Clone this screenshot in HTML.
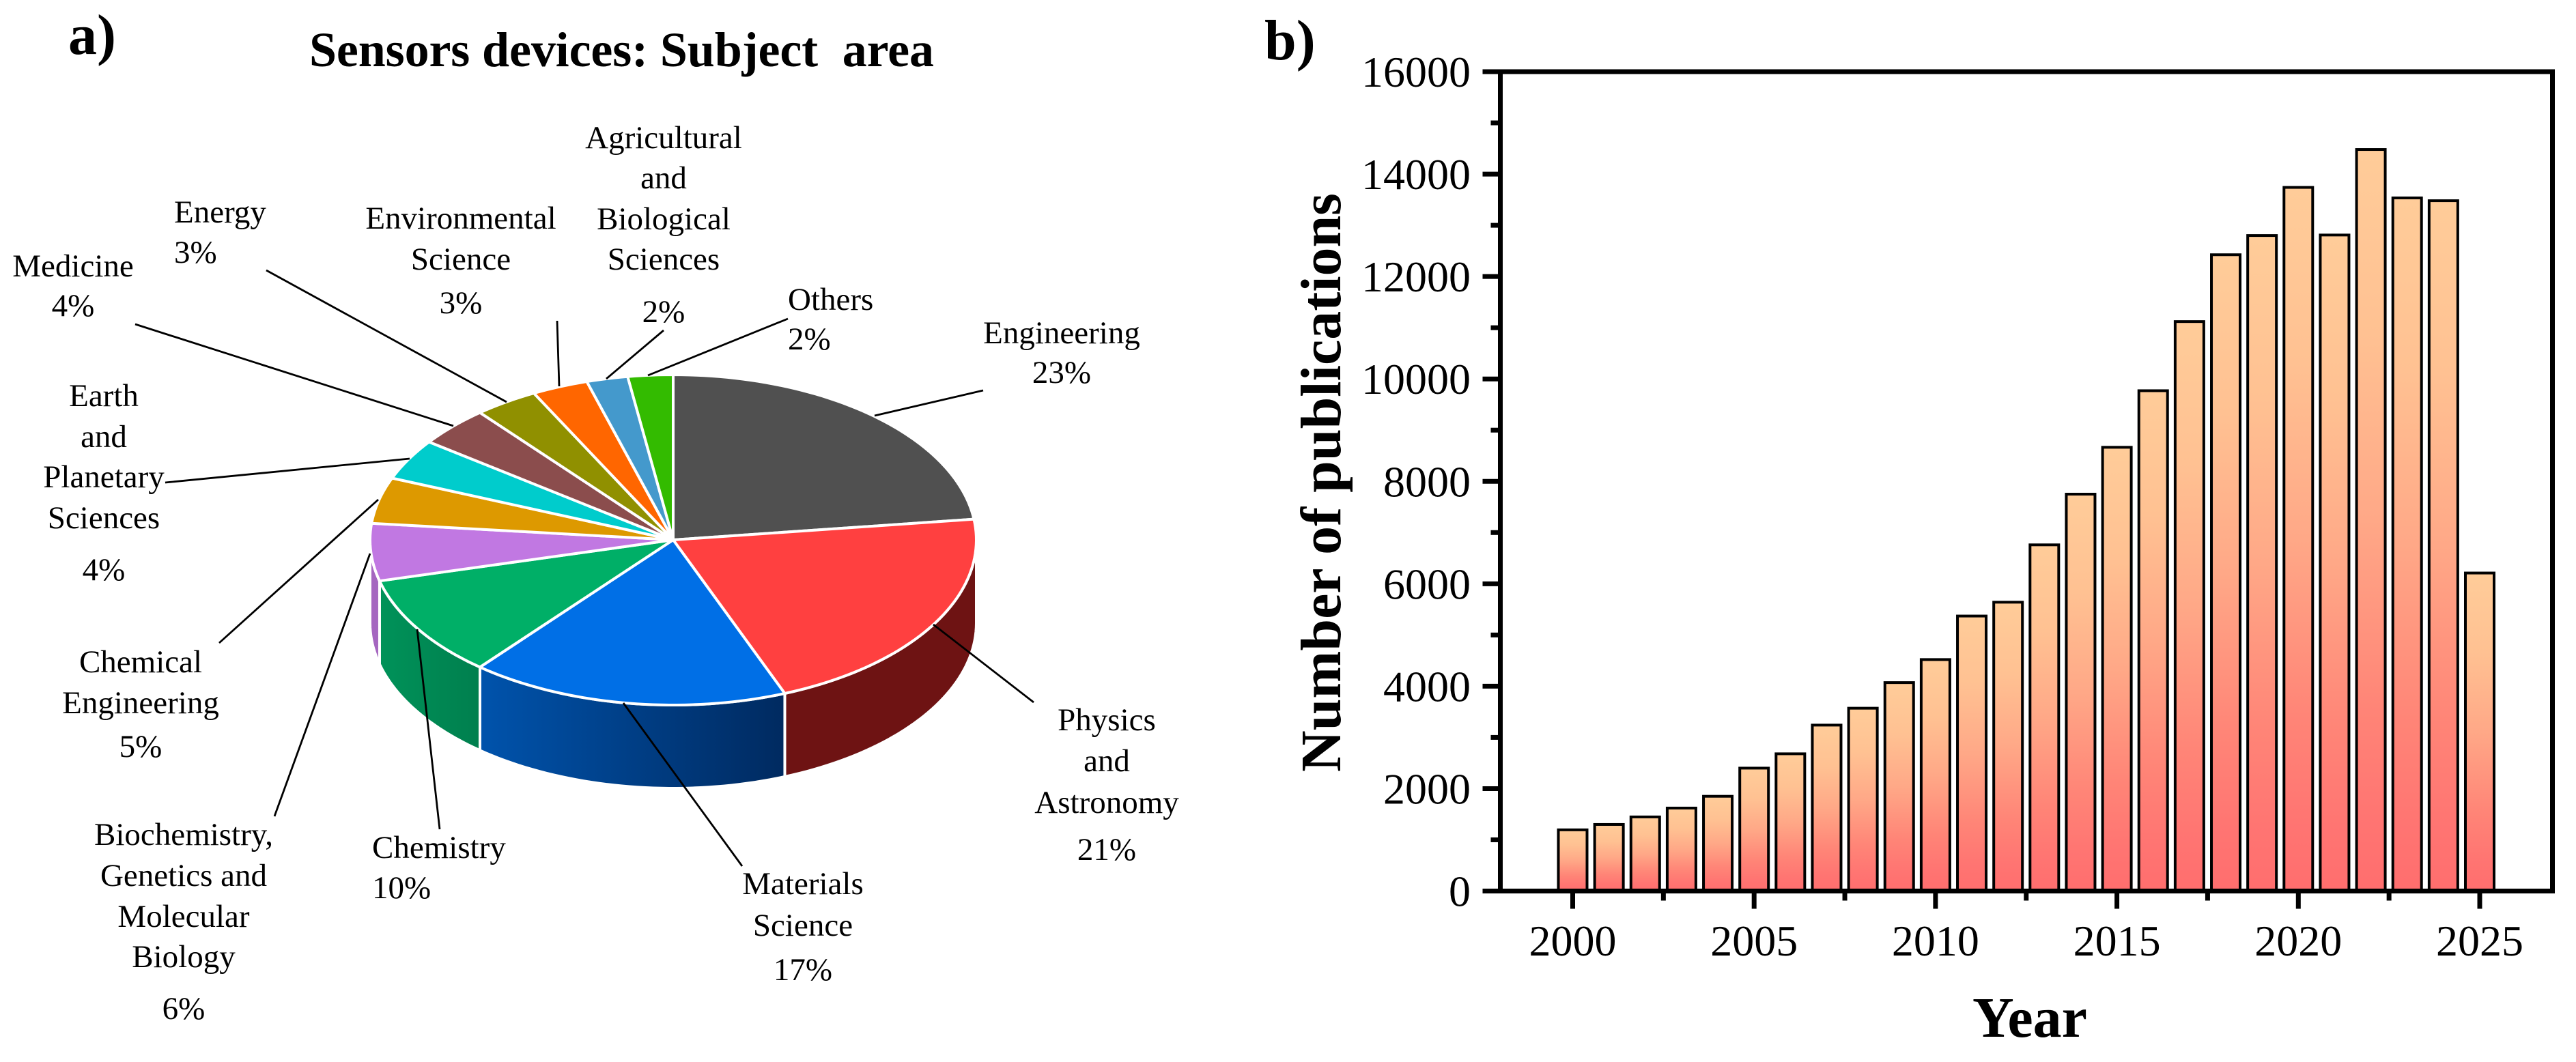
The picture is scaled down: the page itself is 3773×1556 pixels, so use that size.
<!DOCTYPE html>
<html lang="en">
<head>
<meta charset="utf-8">
<title>Sensors devices: subject area and publications per year</title>
<style>
html,body{margin:0;padding:0;background:#fff;}
svg{display:block;}
text{font-family:"Liberation Serif",serif;fill:#000;white-space:pre;}
.lbl{font-size:47px;}
.mid{text-anchor:middle;}
.leader{stroke:#000;stroke-width:2.8;fill:none;}
.tick{font-size:64px;}
</style>
</head>
<body>
<svg id="chart" xmlns="http://www.w3.org/2000/svg" width="3773" height="1556" viewBox="0 0 3773 1556">
  <rect width="3773" height="1556" fill="#fff"/>
  <defs>
    <linearGradient id="barGrad" x1="0" y1="0" x2="0" y2="1">
      <stop offset="0" stop-color="#FFCC99"/>
      <stop offset="0.25" stop-color="#FFC192"/>
      <stop offset="0.5" stop-color="#FFA887"/>
      <stop offset="0.75" stop-color="#FF8577"/>
      <stop offset="0.9" stop-color="#FF7572"/>
      <stop offset="1" stop-color="#FF6E6E"/>
    </linearGradient>
    <linearGradient id="wallBlue" gradientUnits="userSpaceOnUse" x1="703" y1="0" x2="1149" y2="0">
      <stop offset="0" stop-color="#0053AC"/>
      <stop offset="1" stop-color="#002A60"/>
    </linearGradient>
    <linearGradient id="wallGreen" gradientUnits="userSpaceOnUse" x1="557" y1="0" x2="703" y2="0">
      <stop offset="0" stop-color="#009259"/>
      <stop offset="1" stop-color="#007F4E"/>
    </linearGradient>
  </defs>

  <g id="pie-panel">
    <text x="100" y="79" font-size="84" font-weight="bold">a)</text>
    <text x="453" y="97" font-size="72" font-weight="bold" textLength="915">Sensors devices: Subject  area</text>
    <g id="pie-walls"></g>
    <g id="pie-top"></g>

    <g>
      <line class="leader" x1="1440" y1="572" x2="1281" y2="609"/>
      <line class="leader" x1="1154" y1="467" x2="949" y2="550"/>
      <line class="leader" x1="972" y1="484" x2="888" y2="555"/>
      <line class="leader" x1="816" y1="470" x2="819" y2="566"/>
      <line class="leader" x1="390" y1="396" x2="742" y2="589"/>
      <line class="leader" x1="198" y1="475" x2="664" y2="624"/>
      <line class="leader" x1="242" y1="707" x2="600" y2="672"/>
      <line class="leader" x1="554" y1="732" x2="321" y2="942"/>
      <line class="leader" x1="542" y1="811" x2="402" y2="1196"/>
      <line class="leader" x1="611" y1="922" x2="644" y2="1215"/>
      <line class="leader" x1="913" y1="1030" x2="1087" y2="1269"/>
      <line class="leader" x1="1367" y1="915" x2="1514" y2="1029"/>
    </g>

    <g class="lbl mid">
      <text x="972" y="217">Agricultural</text><text x="972" y="276">and</text><text x="972" y="336">Biological</text><text x="972" y="395">Sciences</text><text x="972" y="472">2%</text>
    </g>
    <g class="lbl mid">
      <text x="675" y="335">Environmental</text><text x="675" y="395">Science</text><text x="675" y="459">3%</text>
    </g>
    <g class="lbl">
      <text x="255" y="326">Energy</text><text x="255" y="385">3%</text>
    </g>
    <g class="lbl mid">
      <text x="107" y="405">Medicine</text><text x="107" y="463">4%</text>
    </g>
    <g class="lbl">
      <text x="1154" y="454">Others</text><text x="1154" y="512">2%</text>
    </g>
    <g class="lbl mid">
      <text x="1555" y="503">Engineering</text><text x="1555" y="561">23%</text>
    </g>
    <g class="lbl mid">
      <text x="152" y="595">Earth</text><text x="152" y="655">and</text><text x="152" y="714">Planetary</text><text x="152" y="774">Sciences</text><text x="152" y="850">4%</text>
    </g>
    <g class="lbl mid">
      <text x="206" y="985">Chemical</text><text x="206" y="1045">Engineering</text><text x="206" y="1109">5%</text>
    </g>
    <g class="lbl mid">
      <text x="269" y="1238">Biochemistry,</text><text x="269" y="1298">Genetics and</text><text x="269" y="1358">Molecular</text><text x="269" y="1417">Biology</text><text x="269" y="1493">6%</text>
    </g>
    <g class="lbl">
      <text x="545" y="1257">Chemistry</text><text x="545" y="1316">10%</text>
    </g>
    <g class="lbl mid">
      <text x="1176" y="1310">Materials</text><text x="1176" y="1371">Science</text><text x="1176" y="1436">17%</text>
    </g>
    <g class="lbl mid">
      <text x="1621" y="1070">Physics</text><text x="1621" y="1130">and</text><text x="1621" y="1191">Astronomy</text><text x="1621" y="1260">21%</text>
    </g>
  </g>

  <g id="bar-panel">
    <text x="1852" y="87" font-size="84" font-weight="bold">b)</text>
    <g id="bars"></g>
    <g id="axes"></g>
    <text x="2973" y="1519" font-size="84" font-weight="bold" text-anchor="middle">Year</text>
    <text transform="translate(1963 707) rotate(-90)" font-size="84" font-weight="bold" text-anchor="middle">Number of publications</text>
  </g>
</svg>

<script>
/* Pie data: share of publications per subject area (% of total), clockwise from 12 o'clock */
const pieCategories = ["Engineering","Physics and Astronomy","Materials Science","Chemistry","Biochemistry, Genetics and Molecular Biology","Chemical Engineering","Earth and Planetary Sciences","Medicine","Energy","Environmental Science","Agricultural and Biological Sciences","Others"];
const pieValues = [23, 21, 17, 10, 5.6, 4.5, 4, 3.9, 3.4, 3, 2.2, 2.4];
const pieColors = ["#505050","#FF4040","#006FE6","#00AF67","#C178E2","#DD9900","#00CCCC","#8B4D4D","#909000","#FF6600","#4499CC","#33BB00"];
const pieWallColors = ["#2A2A2A","#6E1313","url(#wallBlue)","url(#wallGreen)","#A566C0","#8A6000","#008888","#5A3030","#606000","#A84300","#2C6688","#227A00"];

/* Bar data: publications per year */
const years = [2000,2001,2002,2003,2004,2005,2006,2007,2008,2009,2010,2011,2012,2013,2014,2015,2016,2017,2018,2019,2020,2021,2022,2023,2024,2025];
const publications = [1195,1300,1447,1620,1850,2400,2680,3240,3570,4070,4520,5370,5640,6760,7750,8665,9770,11120,12425,12800,13740,12810,14480,13535,13480,6210];
const yMajorTicks = [0,2000,4000,6000,8000,10000,12000,14000,16000];
const yMinorTicks = [1000,3000,5000,7000,9000,11000,13000,15000];
const xMajorTicks = [2000,2005,2010,2015,2020,2025];
const xMinorTicks = [2002.5,2007.5,2012.5,2017.5,2022.5];

const SVGNS = "http://www.w3.org/2000/svg";
function make(tag, parent, attrs) {
  const node = document.createElementNS(SVGNS, tag);
  for (const k in attrs) node.setAttribute(k, attrs[k]);
  parent.appendChild(node);
  return node;
}
function slug(s) {
  return s.toLowerCase().replace(/[^a-z0-9]+/g, "-").replace(/^-|-$/g, "");
}

/* ---------- Pie ---------- */
const cx = 986, cy = 791, rx = 444, ry = 242, depth = 122;
function ptAt(deg, dy) {
  const a = deg * Math.PI / 180;
  return [cx + rx * Math.sin(a), cy - ry * Math.cos(a) + (dy || 0)];
}
function arcPath(a1, a2, dy) {
  const steps = Math.max(2, Math.ceil(Math.abs(a2 - a1) / 1.5));
  const out = [];
  for (let i = 0; i <= steps; i++) {
    const p = ptAt(a1 + (a2 - a1) * i / steps, dy);
    out.push(p[0].toFixed(2) + " " + p[1].toFixed(2));
  }
  return out;
}
const pieTotal = pieValues.reduce((s, v) => s + v, 0);
const wallsGroup = document.getElementById("pie-walls");
const topGroup = document.getElementById("pie-top");
let cumulative = 0;
pieValues.forEach((v, i) => {
  const a1 = cumulative / pieTotal * 360;
  cumulative += v;
  const a2 = cumulative / pieTotal * 360;
  const w1 = Math.max(a1, 90), w2 = Math.min(a2, 270);
  if (w2 > w1) {
    const top = arcPath(w1, w2, 0);
    const bottom = arcPath(w2, w1, depth);
    const wall = make("path", wallsGroup, {
      d: "M" + top.join("L") + "L" + bottom.join("L") + "Z",
      fill: pieWallColors[i],
      stroke: "#fff",
      "stroke-width": 4
    });
    
    
  }
  const rim = arcPath(a1, a2, 0);
  const slice = make("path", topGroup, {
    d: "M" + cx + " " + cy + "L" + rim.join("L") + "Z",
    fill: pieColors[i],
    stroke: "#fff",
    "stroke-width": 4,
    "stroke-linejoin": "miter"
  });
  
  
});

/* ---------- Bars ---------- */
const plotLeft = 2197.5, plotRight = 3738.5, plotTop = 105, plotBottom = 1305.5;
const xScale = yr => 2303.5 + (yr - 2000) * 53.14;
const yScale = val => plotBottom - (val / 16000) * (plotBottom - plotTop);
const barWidth = 42;
const barsGroup = document.getElementById("bars");
years.forEach((yr, i) => {
  const top = yScale(publications[i]);
  const bar = make("rect", barsGroup, {
    x: xScale(yr) - barWidth / 2,
    y: top,
    width: barWidth,
    height: plotBottom - top,
    fill: "url(#barGrad)",
    stroke: "#000",
    "stroke-width": 4
  });
  
  
});

/* ---------- Axes ---------- */
const axes = document.getElementById("axes");
function axisLine(name, x1, y1, x2, y2) {
  const l = make("line", axes, { x1: x1, y1: y1, x2: x2, y2: y2, stroke: "#000", "stroke-width": 7 });
  
  
}
axisLine("axis-left", plotLeft, plotTop, plotLeft, plotBottom);
axisLine("axis-right", plotRight, plotTop, plotRight, plotBottom);
axisLine("axis-top", plotLeft, plotTop, plotRight + 3.5, plotTop);
axisLine("axis-bottom", plotLeft, plotBottom, plotRight + 3.5, plotBottom);

yMajorTicks.forEach(val => {
  const y = yScale(val);
  axisLine("y-tick-" + val, plotLeft - 26, y, plotLeft, y);
  const t = make("text", axes, { x: 2154, y: y + 22, class: "tick", "text-anchor": "end" });
  t.textContent = String(val);
  
  
});
yMinorTicks.forEach(val => {
  const y = yScale(val);
  axisLine("y-minor-tick-" + val, plotLeft - 14, y, plotLeft, y);
});
xMajorTicks.forEach(val => {
  const x = xScale(val);
  axisLine("x-tick-" + val, x, plotBottom, x, plotBottom + 26);
  const t = make("text", axes, { x: x, y: 1400, class: "tick", "text-anchor": "middle" });
  t.textContent = String(val);
  
  
});
xMinorTicks.forEach(val => {
  const x = xScale(val);
  axisLine("x-minor-tick-" + val, x, plotBottom, x, plotBottom + 14);
});
</script>
</body>
</html>
